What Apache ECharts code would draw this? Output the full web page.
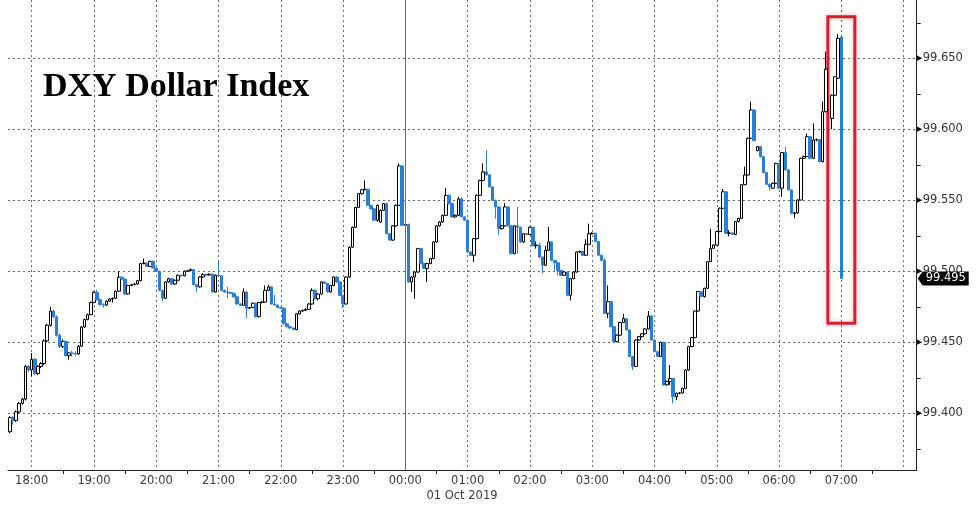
<!DOCTYPE html>
<html><head><meta charset="utf-8">
<script src="https://cdn.jsdelivr.net/npm/echarts@6/dist/echarts.min.js"></script>
<style>html,body{margin:0;padding:0;background:#fff}#c{width:976px;height:507px}</style>
</head><body><div id="c"></div>
<script>
// 3-minute candles [open, close, low, high]; each block starts at the given minute offset from 18:00
const h17 = [
[99.387,99.397,99.386,99.398],[99.397,99.395,99.392,99.398],[99.395,99.401,99.394,99.402],
[99.401,99.407,99.400,99.408],[99.407,99.410,99.406,99.411],[99.410,99.433,99.409,99.434],
[99.433,99.4305,99.429,99.434]];
const h18 = [
[99.4305,99.438,99.426,99.4425],[99.438,99.428,99.427,99.439],[99.428,99.433,99.427,99.434],
[99.433,99.435,99.432,99.436],[99.435,99.451,99.434,99.452],[99.451,99.462,99.450,99.463],
[99.462,99.472,99.461,99.475],[99.472,99.468,99.467,99.473],[99.468,99.455,99.454,99.469],
[99.455,99.447,99.446,99.456],[99.447,99.4507,99.446,99.452],[99.4507,99.4406,99.440,99.451],
[99.4406,99.4425,99.4378,99.443],[99.4425,99.442,99.440,99.444],[99.442,99.4418,99.4405,99.4435],
[99.4418,99.4472,99.441,99.448],[99.4472,99.4608,99.447,99.4615],[99.4608,99.466,99.460,99.4668],
[99.466,99.4695,99.4655,99.4702],[99.4695,99.478,99.469,99.4788]];
const h19 = [
[99.478,99.4852,99.4775,99.486],[99.4852,99.480,99.4795,99.487],[99.480,99.4765,99.476,99.4808],
[99.4765,99.4762,99.4745,99.4775],[99.4762,99.479,99.4755,99.4795],[99.479,99.4805,99.4785,99.481],
[99.4805,99.481,99.478,99.4815],[99.481,99.486,99.4805,99.4865],[99.486,99.4958,99.4855,99.500],
[99.4958,99.4945,99.494,99.4965],[99.4945,99.484,99.4835,99.495],[99.484,99.490,99.4835,99.4905],
[99.490,99.4906,99.4895,99.4912],[99.4906,99.491,99.4902,99.4918],[99.491,99.4934,99.4905,99.494],
[99.4934,99.5054,99.493,99.506],[99.5054,99.5058,99.505,99.509],[99.5058,99.5035,99.503,99.506],
[99.5035,99.507,99.503,99.5075],[99.507,99.5023,99.502,99.5075]];
const h20 = [
[99.5023,99.500,99.4995,99.5028],[99.500,99.4866,99.486,99.5005],[99.4866,99.481,99.479,99.487],
[99.481,99.4925,99.4805,99.493],[99.4925,99.4948,99.492,99.4955],[99.4948,99.491,99.4905,99.4952],
[99.491,99.4937,99.4905,99.4942],[99.4937,99.4972,99.493,99.4978],[99.4972,99.4968,99.496,99.4976],
[99.4968,99.500,99.4965,99.5005],[99.500,99.5005,99.4995,99.501],[99.5005,99.5012,99.500,99.502],
[99.5012,99.4906,99.490,99.5016],[99.4906,99.489,99.4855,99.491],[99.489,99.496,99.4885,99.4965],
[99.496,99.4977,99.4955,99.4985],[99.4977,99.4974,99.4968,99.4982],[99.4974,99.498,99.497,99.4985],
[99.498,99.4854,99.485,99.4985],[99.4854,99.4972,99.485,99.4978]];
const h21 = [
[99.4972,99.4968,99.4962,99.5077],[99.4968,99.4866,99.486,99.4972],[99.4866,99.4854,99.485,99.4872],
[99.4854,99.485,99.481,99.489],[99.485,99.4845,99.484,99.4856],[99.4845,99.482,99.4815,99.485],
[99.482,99.477,99.4765,99.4825],[99.477,99.476,99.4755,99.4775],[99.476,99.4854,99.4755,99.488],
[99.4854,99.474,99.467,99.486],[99.474,99.4745,99.4735,99.475],[99.4745,99.4775,99.474,99.478],
[99.4775,99.468,99.4675,99.478],[99.468,99.478,99.4675,99.4785],[99.478,99.4783,99.4775,99.479],
[99.4783,99.4866,99.4778,99.490],[99.4866,99.489,99.486,99.4905],[99.489,99.477,99.4765,99.4895],
[99.477,99.4762,99.4755,99.4833],[99.4762,99.4745,99.474,99.4768]];
const h22 = [
[99.4745,99.474,99.4735,99.475],[99.474,99.463,99.4625,99.4745],[99.463,99.461,99.4605,99.4635],
[99.461,99.460,99.4595,99.4615],[99.460,99.459,99.4585,99.4605],[99.459,99.470,99.4585,99.4705],
[99.470,99.472,99.4695,99.4725],[99.472,99.4725,99.4715,99.473],[99.4725,99.4732,99.472,99.474],
[99.4732,99.477,99.4728,99.4775],[99.477,99.4866,99.4765,99.488],[99.4866,99.4807,99.480,99.4872],
[99.4807,99.484,99.4795,99.4845],[99.484,99.4925,99.4835,99.493],[99.4925,99.4915,99.491,99.493],
[99.4915,99.4855,99.485,99.492],[99.4855,99.490,99.485,99.4905],[99.490,99.496,99.4895,99.4965],
[99.496,99.4925,99.492,99.4965],[99.4925,99.483,99.4825,99.493]];
const h23 = [
[99.483,99.477,99.474,99.4835],[99.477,99.496,99.4765,99.4965],[99.496,99.517,99.4955,99.5175],
[99.517,99.531,99.5165,99.5315],[99.531,99.545,99.5305,99.5455],[99.545,99.5547,99.5445,99.5552],
[99.5547,99.5575,99.554,99.558],[99.5575,99.5578,99.557,99.564],[99.5578,99.5465,99.546,99.558],
[99.5465,99.544,99.5435,99.547],[99.544,99.536,99.5355,99.5445],[99.536,99.5465,99.5347,99.547],
[99.5347,99.543,99.534,99.5435],[99.543,99.5477,99.5425,99.548],[99.5477,99.5265,99.526,99.548],
[99.5265,99.522,99.5215,99.527],[99.522,99.532,99.5215,99.5325],[99.532,99.5465,99.5315,99.547],
[99.5465,99.5742,99.546,99.576],[99.5742,99.5324,99.532,99.5748]];
const h00 = [
[99.5324,99.533,99.5305,99.5355],[99.533,99.4925,99.492,99.5335],[99.4925,99.496,99.4855,99.4965],
[99.496,99.4995,99.4807,99.500],[99.4995,99.516,99.499,99.5165],[99.516,99.5054,99.505,99.5165],
[99.5054,99.502,99.5015,99.506],[99.502,99.5054,99.4925,99.506],[99.5054,99.509,99.505,99.5095],
[99.509,99.5207,99.5085,99.5212],[99.5207,99.532,99.520,99.5325],[99.532,99.5347,99.5315,99.5352],
[99.5347,99.5394,99.534,99.540],[99.5394,99.5535,99.539,99.5587],[99.5535,99.5477,99.547,99.554],
[99.5477,99.5383,99.538,99.548],[99.5383,99.5394,99.5378,99.540],[99.5394,99.551,99.539,99.5523],
[99.551,99.5383,99.538,99.5523],[99.5383,99.536,99.5355,99.5388]];
const h01 = [
[99.536,99.5136,99.513,99.5365],[99.5136,99.5113,99.5108,99.514],[99.5113,99.523,99.5066,99.5235],
[99.523,99.5535,99.5225,99.554],[99.5535,99.564,99.553,99.5645],[99.564,99.570,99.5635,99.576],
[99.570,99.568,99.567,99.5852],[99.568,99.5594,99.559,99.5685],[99.5594,99.550,99.5495,99.560],
[99.550,99.5453,99.537,99.5505],[99.5453,99.530,99.526,99.5458],[99.530,99.532,99.5295,99.5325],
[99.532,99.5453,99.5315,99.548],[99.5453,99.532,99.5315,99.5458],[99.532,99.5124,99.512,99.5325],
[99.5124,99.532,99.512,99.5325],[99.532,99.531,99.5124,99.5453],[99.531,99.5207,99.520,99.5315],
[99.5207,99.5265,99.520,99.527],[99.5265,99.526,99.5255,99.527]];
const h02 = [
[99.526,99.531,99.5255,99.5315],[99.531,99.518,99.5175,99.5315],[99.518,99.5185,99.516,99.521],
[99.5185,99.510,99.5095,99.520],[99.510,99.5042,99.4984,99.5105],[99.5042,99.5148,99.5037,99.518],
[99.5148,99.5207,99.5145,99.5312],[99.5207,99.5077,99.507,99.521],[99.5077,99.506,99.5007,99.508],
[99.506,99.5007,99.4972,99.5065],[99.5007,99.4972,99.4968,99.501],[99.4972,99.4995,99.4968,99.500],
[99.4995,99.4831,99.4825,99.500],[99.4831,99.4948,99.4796,99.4952],[99.4948,99.4995,99.4944,99.500],
[99.4995,99.5136,99.499,99.514],[99.5136,99.514,99.513,99.5145],[99.514,99.5113,99.5108,99.5145],
[99.5113,99.519,99.511,99.5225],[99.519,99.5265,99.5185,99.5335]];
const h03 = [
[99.5265,99.5268,99.526,99.5275],[99.5268,99.521,99.5205,99.5272],[99.521,99.5113,99.511,99.5215],
[99.5113,99.5077,99.507,99.5118],[99.5077,99.4704,99.470,99.5092],[99.4704,99.4786,99.467,99.490],
[99.4786,99.461,99.4605,99.479],[99.461,99.4505,99.450,99.4615],[99.4505,99.455,99.450,99.4555],
[99.455,99.464,99.4545,99.4645],[99.464,99.4666,99.4635,99.470],[99.4666,99.4587,99.458,99.467],
[99.4587,99.440,99.4395,99.459],[99.440,99.433,99.4305,99.4405],[99.433,99.4516,99.4325,99.452],
[99.4516,99.454,99.451,99.4545],[99.454,99.456,99.4535,99.4565],[99.456,99.4594,99.4555,99.460],
[99.4594,99.4685,99.459,99.472],[99.4685,99.4516,99.451,99.469]];
const h04 = [
[99.4516,99.4434,99.443,99.452],[99.4434,99.440,99.4395,99.444],[99.440,99.450,99.4395,99.4505],
[99.450,99.420,99.4195,99.4505],[99.420,99.4225,99.4195,99.423],[99.4225,99.4245,99.420,99.434],
[99.4245,99.4117,99.407,99.425],[99.4117,99.4141,99.4094,99.4145],[99.4141,99.4143,99.4135,99.415],
[99.4143,99.4176,99.414,99.418],[99.4176,99.4305,99.417,99.431],[99.4305,99.447,99.430,99.4475],
[99.447,99.4533,99.4465,99.4538],[99.4533,99.472,99.453,99.4725],[99.472,99.4857,99.4715,99.486],
[99.4857,99.4822,99.4818,99.486],[99.4822,99.488,99.4815,99.4885],[99.488,99.5068,99.4875,99.5072],
[99.5068,99.5162,99.5065,99.530],[99.5162,99.5185,99.5158,99.519]];
const h05 = [
[99.5185,99.528,99.518,99.5285],[99.528,99.5444,99.5275,99.545],[99.5444,99.556,99.544,99.558],
[99.556,99.5268,99.5262,99.5565],[99.5268,99.527,99.5245,99.529],[99.527,99.526,99.5255,99.5275],
[99.526,99.535,99.5255,99.5355],[99.535,99.5373,99.5345,99.5378],[99.5373,99.561,99.537,99.5615],
[99.561,99.5678,99.5605,99.5737],[99.5678,99.5937,99.5675,99.5942],[99.5937,99.6136,99.5932,99.6195],
[99.6136,99.592,99.5915,99.614],[99.585,99.5878,99.5845,99.5882],[99.5878,99.5808,99.580,99.5882],
[99.5808,99.5695,99.569,99.5812],[99.5695,99.5613,99.5608,99.570],[99.5613,99.5596,99.557,99.5618],
[99.5585,99.562,99.558,99.5625],[99.562,99.576,99.5615,99.5765]];
const h06 = [
[99.576,99.5585,99.558,99.5765],[99.5585,99.5836,99.5526,99.584],[99.5836,99.5714,99.571,99.5878],
[99.5714,99.5573,99.557,99.5718],[99.5573,99.5408,99.5403,99.5578],[99.5408,99.5412,99.5373,99.5418],
[99.5412,99.5502,99.5405,99.5508],[99.5502,99.5796,99.550,99.580],[99.5796,99.5808,99.579,99.5815],
[99.5808,99.5948,99.5805,99.597],[99.5948,99.5796,99.579,99.5952],[99.5796,99.5925,99.579,99.6042],
[99.5925,99.5928,99.5915,99.5935],[99.5928,99.5772,99.5768,99.5932],[99.5772,99.6124,99.5768,99.6195],
[99.6124,99.6423,99.612,99.6547],null,[99.6077,99.624,99.600,99.6245],
[99.624,99.637,99.6235,99.6375],[99.636,99.6641,99.6355,99.667]];
const h07 = [[99.665,99.495,99.495,99.6665]];

const blocks = [[-21,h17],[0,h18],[60,h19],[120,h20],[180,h21],[240,h22],[300,h23],[360,h00],
                [420,h01],[480,h02],[540,h03],[600,h04],[660,h05],[720,h06],[780,h07]];
const stepMinutes = 3;
const midnightMinute = 360;
const tickLabels = ['18:00','19:00','20:00','21:00','22:00','23:00','00:00','01:00','02:00','03:00','04:00','05:00','06:00','07:00'];
const hourGrid = [0,60,120,180,240,300,360,420,480,540,600,660,720,780,840];
const halfHourTicks = [30,90,150,210,270,330,390,450,510,570,630,690,750,810];
const yLabelValues = [99.40,99.45,99.50,99.55,99.60,99.65];
const yMinorValues = [99.375,99.425,99.475,99.525,99.575,99.625,99.675];
const xMin = -22.8, xMax = 852.6, yMin = 99.36007, yMax = 99.69106;
const dateLabel = '01 Oct 2019';
const titleText = 'DXY Dollar Index';

const data = [];
blocks.forEach(([start, rows]) => rows.forEach((r, i) => {
  if (r) data.push([start + i * stepMinutes, r[0], r[1], r[2], r[3]]);
}));
const last = data[data.length - 1];

const UP = '#000000', DOWN = '#2a7fd4';
const FONT = 'DejaVu Sans';
const dash = {type: [2, 3], color: '#6a6a6a', width: 1};

const chart = echarts.init(document.getElementById('c'), null, {renderer: 'canvas'});
chart.setOption({
  animation: false,
  backgroundColor: '#ffffff',
  title: {text: titleText, left: 43, top: 70, padding: 0,
    textStyle: {fontFamily: 'Liberation Serif', fontWeight: 'bold', fontSize: 34, color: '#000'}},
  grid: {left: 8, right: 59.3, top: 0, bottom: 37, containLabel: false, outerBoundsMode: 'none'},
  xAxis: [{
    type: 'value', min: xMin, max: xMax, position: 'bottom',
    axisLine: {show: true, onZero: false, lineStyle: {color: '#222', width: 1}},
    axisTick: {show: true, length: 0, customValues: hourGrid, lineStyle: {color: 'rgba(0,0,0,0)'}},
    axisLabel: {customValues: hourGrid.slice(0, 14), margin: 5, color: '#3a3a3a', fontFamily: FONT, fontSize: 11.5,
      formatter: v => tickLabels[Math.round(v / 60)] || ''},
    splitLine: {show: true, lineStyle: dash}
  }, {
    type: 'value', min: xMin, max: xMax, position: 'bottom',
    axisLine: {show: false, onZero: false}, axisLabel: {show: false}, splitLine: {show: false},
    axisTick: {show: true, customValues: halfHourTicks, length: 4, lineStyle: {color: '#222'}}
  }],
  yAxis: [{
    type: 'value', min: yMin, max: yMax, position: 'right',
    axisLine: {show: true, onZero: false, lineStyle: {color: '#222', width: 1}},
    axisTick: {show: true, length: 0, customValues: yLabelValues, lineStyle: {color: 'rgba(0,0,0,0)'}},
    axisLabel: {customValues: yLabelValues, margin: 0,
      formatter: v => '{t|\u25B6}{v|' + v.toFixed(3) + '}',
      rich: {t: {fontSize: 7, color: '#111', padding: [0, 1, 0, 0]},
             v: {fontSize: 11.5, color: '#333', fontFamily: FONT}}},
    splitLine: {show: true, lineStyle: dash}
  }, {
    type: 'value', min: yMin, max: yMax, position: 'right',
    axisLine: {show: false, onZero: false}, axisLabel: {show: false}, splitLine: {show: false},
    axisTick: {show: true, customValues: yMinorValues, length: 4, lineStyle: {color: '#222'}}
  }],
  series: [{
    type: 'candlestick',
    xAxisIndex: 0, yAxisIndex: 0,
    data: data,
    encode: {x: 0, y: [1, 2, 3, 4]},
    barWidth: 3,
    itemStyle: {color: '#ffffff', color0: DOWN, borderColor: UP, borderColor0: DOWN,
      borderColorDoji: UP, borderWidth: 1},
    markLine: {silent: true, symbol: ['none', 'none'], label: {show: false},
      lineStyle: {type: 'solid', color: '#6e6e6e', width: 1},
      data: [{xAxis: midnightMinute}]},
    markArea: {silent: true, label: {show: false},
      itemStyle: {color: 'rgba(0,0,0,0)', borderColor: '#d4202c', borderWidth: 3,
        shadowBlur: 5, shadowColor: 'rgba(220,40,50,0.35)'},
      data: [[{xAxis: last[0] - 13, yAxis: last[4] + 0.0128}, {xAxis: last[0] + 13, yAxis: last[3] - 0.0316}]]}
  }]
});

const py = chart.convertToPixel({yAxisIndex: 0}, last[2]);
const px = chart.convertToPixel({xAxisIndex: 0}, xMax);
chart.setOption({
  graphic: [
    {type: 'polygon', z: 100, shape: {points: [[px + 1, py], [px + 6, py - 7], [px + 52, py - 7], [px + 52, py + 7], [px + 6, py + 7]]},
      style: {fill: '#000'}},
    {type: 'text', z: 101, x: px + 9, y: py, style: {text: last[2].toFixed(3), fill: '#fff', font: '11.5px "DejaVu Sans"',
      align: 'left', verticalAlign: 'middle'}},
    {type: 'text', z: 101, x: 462, y: 496, style: {text: dateLabel, fill: '#3a3a3a', font: '11.5px "DejaVu Sans"',
      align: 'center', verticalAlign: 'middle'}}
  ]
});
</script></body></html>
